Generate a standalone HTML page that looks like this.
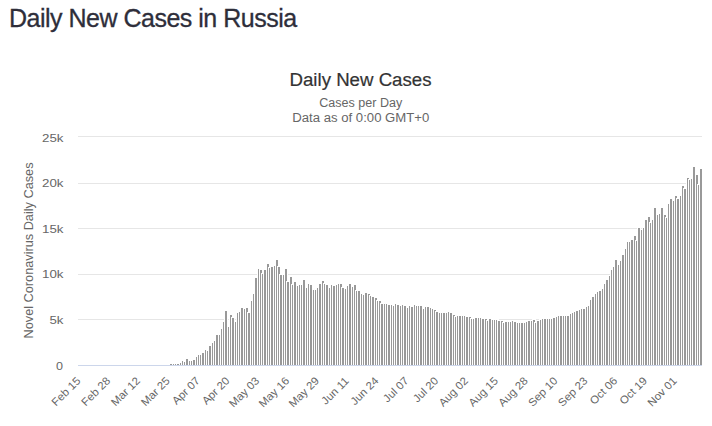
<!DOCTYPE html>
<html><head><meta charset="utf-8"><style>
html,body{margin:0;padding:0;background:#fff;}
body{width:712px;height:426px;overflow:hidden;position:relative;font-family:"Liberation Sans",sans-serif;}
h3{position:absolute;left:9px;top:0;margin:0;font-weight:normal;font-size:25px;letter-spacing:-0.5px;line-height:36px;color:#2e2e3a;white-space:nowrap;-webkit-text-stroke:0.3px #2e2e3a;}
svg{position:absolute;left:0;top:0;}
</style></head><body>
<h3>Daily New Cases in Russia</h3>
<svg width="712" height="426" viewBox="0 0 712 426" font-family="Liberation Sans, sans-serif">
<g shape-rendering="crispEdges" stroke="#e6e6e6" stroke-width="1">
<line x1="78" y1="136.5" x2="702" y2="136.5"/><line x1="78" y1="183.5" x2="702" y2="183.5"/><line x1="78" y1="228.5" x2="702" y2="228.5"/><line x1="78" y1="274.5" x2="702" y2="274.5"/><line x1="78" y1="319.5" x2="702" y2="319.5"/>
</g>
<g fill="#999999" stroke="#ffffff" stroke-width="1" shape-rendering="crispEdges">
<rect x="169.5" y="363.5" width="3" height="3"/>
<rect x="172.5" y="363.5" width="3" height="3"/>
<rect x="174.5" y="363.5" width="3" height="3"/>
<rect x="176.5" y="363.5" width="3" height="3"/>
<rect x="179.5" y="362.5" width="3" height="4"/>
<rect x="181.5" y="360.5" width="3" height="6"/>
<rect x="183.5" y="361.5" width="3" height="5"/>
<rect x="185.5" y="358.5" width="3" height="8"/>
<rect x="188.5" y="360.5" width="3" height="6"/>
<rect x="190.5" y="360.5" width="3" height="6"/>
<rect x="192.5" y="359.5" width="3" height="7"/>
<rect x="195.5" y="356.5" width="3" height="10"/>
<rect x="197.5" y="354.5" width="3" height="12"/>
<rect x="199.5" y="354.5" width="3" height="12"/>
<rect x="201.5" y="352.5" width="3" height="14"/>
<rect x="204.5" y="349.5" width="3" height="17"/>
<rect x="206.5" y="350.5" width="3" height="16"/>
<rect x="208.5" y="345.5" width="3" height="21"/>
<rect x="211.5" y="342.5" width="3" height="24"/>
<rect x="213.5" y="340.5" width="3" height="26"/>
<rect x="215.5" y="334.5" width="3" height="32"/>
<rect x="218.5" y="334.5" width="3" height="32"/>
<rect x="220.5" y="328.5" width="3" height="38"/>
<rect x="222.5" y="321.5" width="3" height="45"/>
<rect x="224.5" y="310.5" width="3" height="56"/>
<rect x="227.5" y="326.5" width="3" height="40"/>
<rect x="229.5" y="314.5" width="3" height="52"/>
<rect x="231.5" y="317.5" width="3" height="49"/>
<rect x="234.5" y="321.5" width="3" height="45"/>
<rect x="236.5" y="312.5" width="3" height="54"/>
<rect x="238.5" y="311.5" width="3" height="55"/>
<rect x="240.5" y="307.5" width="3" height="59"/>
<rect x="243.5" y="308.5" width="3" height="58"/>
<rect x="245.5" y="307.5" width="3" height="59"/>
<rect x="247.5" y="312.5" width="3" height="54"/>
<rect x="250.5" y="300.5" width="3" height="66"/>
<rect x="252.5" y="293.5" width="3" height="73"/>
<rect x="254.5" y="277.5" width="3" height="89"/>
<rect x="257.5" y="268.5" width="3" height="98"/>
<rect x="259.5" y="269.5" width="3" height="97"/>
<rect x="261.5" y="273.5" width="3" height="93"/>
<rect x="263.5" y="269.5" width="3" height="97"/>
<rect x="266.5" y="263.5" width="3" height="103"/>
<rect x="268.5" y="267.5" width="3" height="99"/>
<rect x="270.5" y="266.5" width="3" height="100"/>
<rect x="273.5" y="265.5" width="3" height="101"/>
<rect x="275.5" y="259.5" width="3" height="107"/>
<rect x="277.5" y="266.5" width="3" height="100"/>
<rect x="279.5" y="274.5" width="3" height="92"/>
<rect x="282.5" y="274.5" width="3" height="92"/>
<rect x="284.5" y="268.5" width="3" height="98"/>
<rect x="286.5" y="281.5" width="3" height="85"/>
<rect x="289.5" y="276.5" width="3" height="90"/>
<rect x="291.5" y="284.5" width="3" height="82"/>
<rect x="293.5" y="281.5" width="3" height="85"/>
<rect x="296.5" y="285.5" width="3" height="81"/>
<rect x="298.5" y="284.5" width="3" height="82"/>
<rect x="300.5" y="284.5" width="3" height="82"/>
<rect x="302.5" y="279.5" width="3" height="87"/>
<rect x="305.5" y="287.5" width="3" height="79"/>
<rect x="307.5" y="283.5" width="3" height="83"/>
<rect x="309.5" y="284.5" width="3" height="82"/>
<rect x="312.5" y="289.5" width="3" height="77"/>
<rect x="314.5" y="289.5" width="3" height="77"/>
<rect x="316.5" y="287.5" width="3" height="79"/>
<rect x="318.5" y="283.5" width="3" height="83"/>
<rect x="321.5" y="280.5" width="3" height="86"/>
<rect x="323.5" y="283.5" width="3" height="83"/>
<rect x="325.5" y="284.5" width="3" height="82"/>
<rect x="328.5" y="287.5" width="3" height="79"/>
<rect x="330.5" y="284.5" width="3" height="82"/>
<rect x="332.5" y="285.5" width="3" height="81"/>
<rect x="335.5" y="284.5" width="3" height="82"/>
<rect x="337.5" y="283.5" width="3" height="83"/>
<rect x="339.5" y="283.5" width="3" height="83"/>
<rect x="341.5" y="287.5" width="3" height="79"/>
<rect x="344.5" y="288.5" width="3" height="78"/>
<rect x="346.5" y="285.5" width="3" height="81"/>
<rect x="348.5" y="283.5" width="3" height="83"/>
<rect x="351.5" y="286.5" width="3" height="80"/>
<rect x="353.5" y="284.5" width="3" height="82"/>
<rect x="355.5" y="290.5" width="3" height="76"/>
<rect x="357.5" y="290.5" width="3" height="76"/>
<rect x="360.5" y="293.5" width="3" height="73"/>
<rect x="362.5" y="294.5" width="3" height="72"/>
<rect x="364.5" y="292.5" width="3" height="74"/>
<rect x="367.5" y="293.5" width="3" height="73"/>
<rect x="369.5" y="295.5" width="3" height="71"/>
<rect x="371.5" y="296.5" width="3" height="70"/>
<rect x="374.5" y="297.5" width="3" height="69"/>
<rect x="376.5" y="300.5" width="3" height="66"/>
<rect x="378.5" y="300.5" width="3" height="66"/>
<rect x="380.5" y="303.5" width="3" height="63"/>
<rect x="383.5" y="303.5" width="3" height="63"/>
<rect x="385.5" y="303.5" width="3" height="63"/>
<rect x="387.5" y="304.5" width="3" height="62"/>
<rect x="390.5" y="304.5" width="3" height="62"/>
<rect x="392.5" y="305.5" width="3" height="61"/>
<rect x="394.5" y="303.5" width="3" height="63"/>
<rect x="396.5" y="304.5" width="3" height="62"/>
<rect x="399.5" y="305.5" width="3" height="61"/>
<rect x="401.5" y="304.5" width="3" height="62"/>
<rect x="403.5" y="305.5" width="3" height="61"/>
<rect x="406.5" y="307.5" width="3" height="59"/>
<rect x="408.5" y="305.5" width="3" height="61"/>
<rect x="410.5" y="306.5" width="3" height="60"/>
<rect x="413.5" y="304.5" width="3" height="62"/>
<rect x="415.5" y="305.5" width="3" height="61"/>
<rect x="417.5" y="305.5" width="3" height="61"/>
<rect x="419.5" y="305.5" width="3" height="61"/>
<rect x="422.5" y="308.5" width="3" height="58"/>
<rect x="424.5" y="306.5" width="3" height="60"/>
<rect x="426.5" y="306.5" width="3" height="60"/>
<rect x="429.5" y="307.5" width="3" height="59"/>
<rect x="431.5" y="308.5" width="3" height="58"/>
<rect x="433.5" y="309.5" width="3" height="57"/>
<rect x="435.5" y="311.5" width="3" height="55"/>
<rect x="438.5" y="312.5" width="3" height="54"/>
<rect x="440.5" y="312.5" width="3" height="54"/>
<rect x="442.5" y="312.5" width="3" height="54"/>
<rect x="445.5" y="312.5" width="3" height="54"/>
<rect x="447.5" y="311.5" width="3" height="55"/>
<rect x="449.5" y="312.5" width="3" height="54"/>
<rect x="452.5" y="314.5" width="3" height="52"/>
<rect x="454.5" y="316.5" width="3" height="50"/>
<rect x="456.5" y="315.5" width="3" height="51"/>
<rect x="458.5" y="315.5" width="3" height="51"/>
<rect x="461.5" y="315.5" width="3" height="51"/>
<rect x="463.5" y="315.5" width="3" height="51"/>
<rect x="465.5" y="316.5" width="3" height="50"/>
<rect x="468.5" y="316.5" width="3" height="50"/>
<rect x="470.5" y="318.5" width="3" height="48"/>
<rect x="472.5" y="318.5" width="3" height="48"/>
<rect x="474.5" y="317.5" width="3" height="49"/>
<rect x="477.5" y="317.5" width="3" height="49"/>
<rect x="479.5" y="317.5" width="3" height="49"/>
<rect x="481.5" y="318.5" width="3" height="48"/>
<rect x="484.5" y="318.5" width="3" height="48"/>
<rect x="486.5" y="320.5" width="3" height="46"/>
<rect x="488.5" y="318.5" width="3" height="48"/>
<rect x="491.5" y="319.5" width="3" height="47"/>
<rect x="493.5" y="319.5" width="3" height="47"/>
<rect x="495.5" y="319.5" width="3" height="47"/>
<rect x="497.5" y="320.5" width="3" height="46"/>
<rect x="500.5" y="320.5" width="3" height="46"/>
<rect x="502.5" y="322.5" width="3" height="44"/>
<rect x="504.5" y="321.5" width="3" height="45"/>
<rect x="507.5" y="321.5" width="3" height="45"/>
<rect x="509.5" y="321.5" width="3" height="45"/>
<rect x="511.5" y="320.5" width="3" height="46"/>
<rect x="513.5" y="321.5" width="3" height="45"/>
<rect x="516.5" y="322.5" width="3" height="44"/>
<rect x="518.5" y="322.5" width="3" height="44"/>
<rect x="520.5" y="322.5" width="3" height="44"/>
<rect x="523.5" y="322.5" width="3" height="44"/>
<rect x="525.5" y="321.5" width="3" height="45"/>
<rect x="527.5" y="320.5" width="3" height="46"/>
<rect x="530.5" y="320.5" width="3" height="46"/>
<rect x="532.5" y="319.5" width="3" height="47"/>
<rect x="534.5" y="322.5" width="3" height="44"/>
<rect x="536.5" y="320.5" width="3" height="46"/>
<rect x="539.5" y="319.5" width="3" height="47"/>
<rect x="541.5" y="318.5" width="3" height="48"/>
<rect x="543.5" y="318.5" width="3" height="48"/>
<rect x="546.5" y="318.5" width="3" height="48"/>
<rect x="548.5" y="318.5" width="3" height="48"/>
<rect x="550.5" y="318.5" width="3" height="48"/>
<rect x="552.5" y="317.5" width="3" height="49"/>
<rect x="555.5" y="316.5" width="3" height="50"/>
<rect x="557.5" y="315.5" width="3" height="51"/>
<rect x="559.5" y="315.5" width="3" height="51"/>
<rect x="562.5" y="315.5" width="3" height="51"/>
<rect x="564.5" y="315.5" width="3" height="51"/>
<rect x="566.5" y="315.5" width="3" height="51"/>
<rect x="569.5" y="313.5" width="3" height="53"/>
<rect x="571.5" y="312.5" width="3" height="54"/>
<rect x="573.5" y="311.5" width="3" height="55"/>
<rect x="575.5" y="310.5" width="3" height="56"/>
<rect x="578.5" y="309.5" width="3" height="57"/>
<rect x="580.5" y="308.5" width="3" height="58"/>
<rect x="582.5" y="308.5" width="3" height="58"/>
<rect x="585.5" y="306.5" width="3" height="60"/>
<rect x="587.5" y="305.5" width="3" height="61"/>
<rect x="589.5" y="299.5" width="3" height="67"/>
<rect x="591.5" y="296.5" width="3" height="70"/>
<rect x="594.5" y="293.5" width="3" height="73"/>
<rect x="596.5" y="291.5" width="3" height="75"/>
<rect x="598.5" y="290.5" width="3" height="76"/>
<rect x="601.5" y="288.5" width="3" height="78"/>
<rect x="603.5" y="283.5" width="3" height="83"/>
<rect x="605.5" y="279.5" width="3" height="87"/>
<rect x="608.5" y="275.5" width="3" height="91"/>
<rect x="610.5" y="269.5" width="3" height="97"/>
<rect x="612.5" y="266.5" width="3" height="100"/>
<rect x="614.5" y="259.5" width="3" height="107"/>
<rect x="617.5" y="264.5" width="3" height="102"/>
<rect x="619.5" y="260.5" width="3" height="106"/>
<rect x="621.5" y="254.5" width="3" height="112"/>
<rect x="624.5" y="248.5" width="3" height="118"/>
<rect x="626.5" y="241.5" width="3" height="125"/>
<rect x="628.5" y="241.5" width="3" height="125"/>
<rect x="630.5" y="239.5" width="3" height="127"/>
<rect x="633.5" y="235.5" width="3" height="131"/>
<rect x="635.5" y="240.5" width="3" height="126"/>
<rect x="637.5" y="227.5" width="3" height="139"/>
<rect x="640.5" y="229.5" width="3" height="137"/>
<rect x="642.5" y="227.5" width="3" height="139"/>
<rect x="644.5" y="219.5" width="3" height="147"/>
<rect x="647.5" y="216.5" width="3" height="150"/>
<rect x="649.5" y="222.5" width="3" height="144"/>
<rect x="651.5" y="219.5" width="3" height="147"/>
<rect x="653.5" y="207.5" width="3" height="159"/>
<rect x="656.5" y="214.5" width="3" height="152"/>
<rect x="658.5" y="213.5" width="3" height="153"/>
<rect x="660.5" y="207.5" width="3" height="159"/>
<rect x="663.5" y="214.5" width="3" height="152"/>
<rect x="665.5" y="217.5" width="3" height="149"/>
<rect x="667.5" y="203.5" width="3" height="163"/>
<rect x="669.5" y="198.5" width="3" height="168"/>
<rect x="672.5" y="200.5" width="3" height="166"/>
<rect x="674.5" y="195.5" width="3" height="171"/>
<rect x="676.5" y="198.5" width="3" height="168"/>
<rect x="679.5" y="195.5" width="3" height="171"/>
<rect x="681.5" y="185.5" width="3" height="181"/>
<rect x="683.5" y="188.5" width="3" height="178"/>
<rect x="686.5" y="177.5" width="3" height="189"/>
<rect x="688.5" y="179.5" width="3" height="187"/>
<rect x="690.5" y="178.5" width="3" height="188"/>
<rect x="692.5" y="166.5" width="3" height="200"/>
<rect x="695.5" y="174.5" width="3" height="192"/>
<rect x="697.5" y="184.5" width="3" height="182"/>
<rect x="699.5" y="168.5" width="3" height="198"/>
</g>
<line x1="78" y1="365.5" x2="702" y2="365.5" stroke="#ccd6eb" stroke-width="1" shape-rendering="crispEdges"/>
<text x="360.5" y="86" text-anchor="middle" font-size="18" fill="#333333" stroke="#333333" stroke-width="0.2" textLength="142" lengthAdjust="spacingAndGlyphs">Daily New Cases</text>
<text x="360.8" y="107" text-anchor="middle" font-size="12" fill="#666666" textLength="83" lengthAdjust="spacingAndGlyphs">Cases per Day</text>
<text x="360.8" y="122" text-anchor="middle" font-size="12" fill="#666666" textLength="137" lengthAdjust="spacingAndGlyphs">Data as of 0:00 GMT+0</text>
<text x="0" y="0" text-anchor="middle" font-size="12" fill="#666666" textLength="176" lengthAdjust="spacingAndGlyphs" transform="translate(32.5 250.5) rotate(-90)">Novel Coronavirus Daily Cases</text>
<g font-size="11" fill="#666666">
<text x="63.5" y="141.5" text-anchor="end" textLength="21.5" lengthAdjust="spacingAndGlyphs">25k</text>
<text x="63.5" y="186.5" text-anchor="end" textLength="21.5" lengthAdjust="spacingAndGlyphs">20k</text>
<text x="63.5" y="232.5" text-anchor="end" textLength="21.5" lengthAdjust="spacingAndGlyphs">15k</text>
<text x="63.5" y="277.5" text-anchor="end" textLength="21.5" lengthAdjust="spacingAndGlyphs">10k</text>
<text x="63.5" y="323.5" text-anchor="end" textLength="14" lengthAdjust="spacingAndGlyphs">5k</text>
<text x="63" y="369.5" text-anchor="end" textLength="7" lengthAdjust="spacingAndGlyphs">0</text>
</g>
<g font-size="11" fill="#666666">
<text x="81.15" y="381.5" text-anchor="end" textLength="35.62" lengthAdjust="spacingAndGlyphs" transform="rotate(-45 81.15 381.5)">Feb 15</text>
<text x="110.97" y="381.5" text-anchor="end" textLength="35.62" lengthAdjust="spacingAndGlyphs" transform="rotate(-45 110.97 381.5)">Feb 28</text>
<text x="140.79" y="381.5" text-anchor="end" textLength="35.62" lengthAdjust="spacingAndGlyphs" transform="rotate(-45 140.79 381.5)">Mar 12</text>
<text x="170.62" y="381.5" text-anchor="end" textLength="35.62" lengthAdjust="spacingAndGlyphs" transform="rotate(-45 170.62 381.5)">Mar 25</text>
<text x="200.44" y="381.5" text-anchor="end" textLength="33.72" lengthAdjust="spacingAndGlyphs" transform="rotate(-45 200.44 381.5)">Apr 07</text>
<text x="230.26" y="381.5" text-anchor="end" textLength="33.72" lengthAdjust="spacingAndGlyphs" transform="rotate(-45 230.26 381.5)">Apr 20</text>
<text x="260.09" y="381.5" text-anchor="end" textLength="37.52" lengthAdjust="spacingAndGlyphs" transform="rotate(-45 260.09 381.5)">May 03</text>
<text x="289.91" y="381.5" text-anchor="end" textLength="37.52" lengthAdjust="spacingAndGlyphs" transform="rotate(-45 289.91 381.5)">May 16</text>
<text x="319.74" y="381.5" text-anchor="end" textLength="37.52" lengthAdjust="spacingAndGlyphs" transform="rotate(-45 319.74 381.5)">May 29</text>
<text x="349.56" y="381.5" text-anchor="end" textLength="33.51" lengthAdjust="spacingAndGlyphs" transform="rotate(-45 349.56 381.5)">Jun 11</text>
<text x="379.38" y="381.5" text-anchor="end" textLength="34.35" lengthAdjust="spacingAndGlyphs" transform="rotate(-45 379.38 381.5)">Jun 24</text>
<text x="409.21" y="381.5" text-anchor="end" textLength="30.53" lengthAdjust="spacingAndGlyphs" transform="rotate(-45 409.21 381.5)">Jul 07</text>
<text x="439.03" y="381.5" text-anchor="end" textLength="30.53" lengthAdjust="spacingAndGlyphs" transform="rotate(-45 439.03 381.5)">Jul 20</text>
<text x="468.85" y="381.5" text-anchor="end" textLength="36.27" lengthAdjust="spacingAndGlyphs" transform="rotate(-45 468.85 381.5)">Aug 02</text>
<text x="498.68" y="381.5" text-anchor="end" textLength="36.27" lengthAdjust="spacingAndGlyphs" transform="rotate(-45 498.68 381.5)">Aug 15</text>
<text x="528.50" y="381.5" text-anchor="end" textLength="36.27" lengthAdjust="spacingAndGlyphs" transform="rotate(-45 528.50 381.5)">Aug 28</text>
<text x="558.32" y="381.5" text-anchor="end" textLength="36.27" lengthAdjust="spacingAndGlyphs" transform="rotate(-45 558.32 381.5)">Sep 10</text>
<text x="588.15" y="381.5" text-anchor="end" textLength="36.27" lengthAdjust="spacingAndGlyphs" transform="rotate(-45 588.15 381.5)">Sep 23</text>
<text x="617.97" y="381.5" text-anchor="end" textLength="33.70" lengthAdjust="spacingAndGlyphs" transform="rotate(-45 617.97 381.5)">Oct 06</text>
<text x="647.79" y="381.5" text-anchor="end" textLength="33.70" lengthAdjust="spacingAndGlyphs" transform="rotate(-45 647.79 381.5)">Oct 19</text>
<text x="677.62" y="381.5" text-anchor="end" textLength="36.25" lengthAdjust="spacingAndGlyphs" transform="rotate(-45 677.62 381.5)">Nov 01</text>
</g>
</svg>
</body></html>
